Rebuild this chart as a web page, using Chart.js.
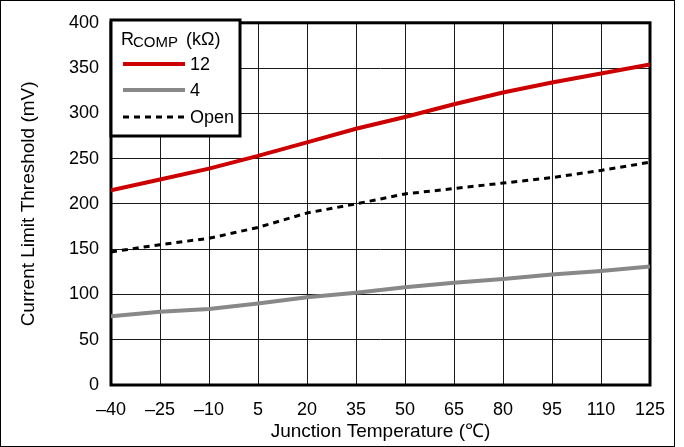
<!DOCTYPE html>
<html>
<head>
<meta charset="utf-8">
<script src="https://cdn.jsdelivr.net/npm/chart.js@4.4.0/dist/chart.umd.min.js"></script>
<style>
  body { margin: 0; background: #fff; }
  #wrap { position: relative; width: 684px; height: 447px; }
  #frame { position: absolute; left: 0; top: 0; width: 673px; height: 445px; border: 1px solid #000; pointer-events: none; }
</style>
</head>
<body>
<div id="wrap">
  <canvas id="lineChart" width="684" height="447"></canvas>
  <div id="frame"></div>
</div>
<script>
// temperatures (°C)
const temps = [-40, -25, -10, 5, 20, 35, 50, 65, 80, 95, 110, 125];
const xTicks = [-40, -25, -10, 5, 20, 35, 50, 65, 80, 95, 110, 125];
const yTicks = [0, 50, 100, 150, 200, 250, 300, 350, 400];

const seriesNames = ['12', '4', 'Open'];
const r12 = [215, 227, 239, 253, 268, 283, 296, 310, 323, 334, 344, 354];
const r4 = [76, 81, 84, 90, 97, 102, 108, 113, 117, 122, 126, 131];
const rOpen = [147, 155, 162, 174, 190, 200, 211, 217, 223, 229, 237, 246];

function pts(ys) {
  return temps.map((t, i) => ({ x: t, y: ys[i] }));
}

const font = 'Liberation Sans, Arial, sans-serif';

const frameBorder = {
  id: 'frameBorder',
  beforeDatasetsDraw(chart) {
    const a = chart.chartArea;
    const c = chart.ctx;
    c.save();
    c.strokeStyle = '#000';
    c.lineWidth = 3;
    c.strokeRect(a.left, a.top, a.right - a.left, a.bottom - a.top);
    c.restore();
  }
};

const boxLegend = {
  id: 'boxLegend',
  afterDatasetsDraw(chart) {
    const c = chart.ctx;
    c.save();
    c.fillStyle = '#fff';
    c.fillRect(111, 20, 129, 116);
    c.strokeStyle = '#000';
    c.lineWidth = 3;
    c.strokeRect(111, 20, 129, 116);

    c.fillStyle = '#000';
    c.textBaseline = 'alphabetic';
    c.textAlign = 'left';
    c.font = '18px ' + font;
    c.fillText('R', 121, 45);
    c.font = '15px ' + font;
    c.fillText('COMP', 133, 47);
    c.font = '18px ' + font;
    c.fillText('(k\u03A9)', 186, 45);

    const rows = [64, 90, 117];
    chart.data.datasets.forEach((ds, i) => {
      const y = rows[i];
      c.beginPath();
      c.strokeStyle = ds.borderColor;
      c.lineWidth = ds.borderWidth;
      c.setLineDash(ds.borderDash || []);
      c.moveTo(123, y);
      c.lineTo(185, y);
      c.stroke();
      c.setLineDash([]);
      c.fillStyle = '#000';
      c.font = '18px ' + font;
      c.textBaseline = 'middle';
      c.fillText(ds.label, 190, y + 1);
    });
    c.restore();
  }
};

const ctx = document.getElementById('lineChart');
const lineChart = new Chart(ctx, {
  type: 'line',
  data: {
    datasets: [{
      label: seriesNames[0],
      data: pts(r12),
      borderColor: '#cc0000',
      borderWidth: 4,
      pointRadius: 0,
    }, {
      label: seriesNames[1],
      data: pts(r4),
      borderColor: '#888888',
      borderWidth: 4,
      pointRadius: 0,
    }, {
      label: seriesNames[2],
      data: pts(rOpen),
      borderColor: '#000000',
      borderWidth: 3,
      borderDash: [6, 5],
      pointRadius: 0,
    }]
  },
  options: {
    responsive: false,
    animation: false,
    layout: { padding: { top: 20, right: 34, left: 0, bottom: 0 } },
    plugins: {
      legend: { display: false },
      tooltip: { enabled: false }
    },
    scales: {
      x: {
        type: 'linear',
        min: -40,
        max: 125,
        afterBuildTicks: s => { s.ticks = xTicks.map(v => ({ value: v })); },
        afterFit: s => { s.height = 62; },
        ticks: {
          color: '#000',
          font: { family: font, size: 18 },
          padding: 14,
          maxRotation: 0,
          autoSkip: false,
          callback: v => v < 0 ? '\u2013' + Math.abs(v) : String(v)
        },
        grid: { color: '#1a1a1a', lineWidth: 1, drawTicks: false },
        border: { display: false },
        title: {
          display: true,
          text: 'Junction Temperature (\u2103)',
          color: '#000',
          font: { family: font, size: 19 },
          padding: { top: 0, bottom: 4 }
        }
      },
      y: {
        min: 0,
        max: 400,
        afterBuildTicks: s => { s.ticks = yTicks.map(v => ({ value: v })); },
        afterFit: s => { s.width = 111; },
        ticks: {
          color: '#000',
          font: { family: font, size: 18 },
          padding: 12
        },
        grid: { color: '#1a1a1a', lineWidth: 1, drawTicks: false },
        border: { display: false },
        title: {
          display: true,
          text: 'Current Limit Threshold (mV)',
          color: '#000',
          font: { family: font, size: 19 },
          padding: { top: 17, bottom: 0 }
        }
      }
    }
  },
  plugins: [frameBorder, boxLegend]
});
</script>
</body>
</html>
